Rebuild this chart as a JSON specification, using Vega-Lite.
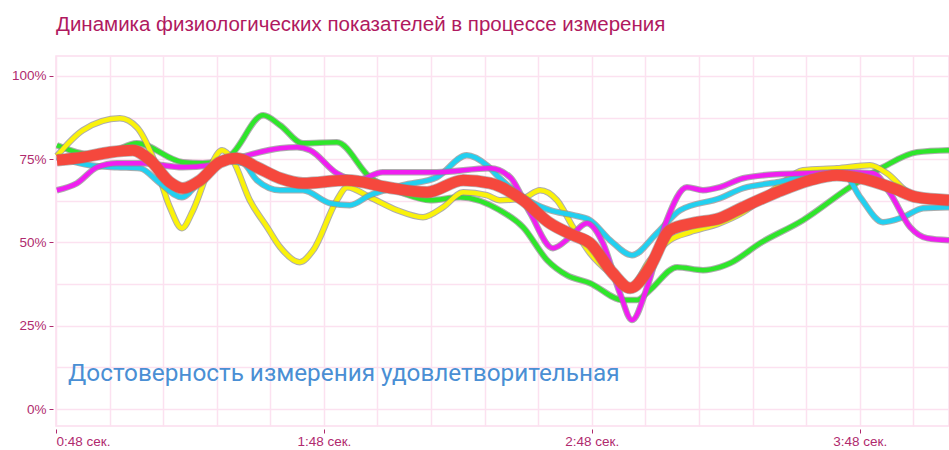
{
  "$schema": "https://vega.github.io/schema/vega-lite/v6.json",
  "autosize": "none",
  "width": 893,
  "height": 370,
  "padding": {"left": 56, "top": 56, "right": 0, "bottom": 24},
  "background": "white",
  "config": {
    "view": {"stroke": "#FCDDEE", "strokeWidth": 1.5},
    "font": "Liberation Sans"
  },
  "title": {
    "text": "Динамика физиологических показателей в процессе измерения",
    "anchor": "start",
    "frame": "group",
    "font": "Liberation Sans",
    "fontSize": 20.5,
    "fontWeight": "normal",
    "color": "#B0195F",
    "offset": 21
  },
  "datasets": {
    "series": [
      {"s": "green", "t": 48.2, "v": 79.2}, {"s": "green", "t": 55.6, "v": 76.5}, {"s": "green", "t": 60.1, "v": 77.0}, {"s": "green", "t": 66.1, "v": 79.8}, {"s": "green", "t": 76.4, "v": 74.1}, {"s": "green", "t": 80.9, "v": 73.8}, {"s": "green", "t": 87.0, "v": 76.2}, {"s": "green", "t": 94.4, "v": 88.2}, {"s": "green", "t": 98.2, "v": 85.2}, {"s": "green", "t": 103.3, "v": 79.8}, {"s": "green", "t": 110.9, "v": 80.1}, {"s": "green", "t": 118.3, "v": 69.6}, {"s": "green", "t": 125.7, "v": 64.8}, {"s": "green", "t": 131.8, "v": 62.7}, {"s": "green", "t": 138.5, "v": 63.6}, {"s": "green", "t": 147.4, "v": 59.7}, {"s": "green", "t": 152.6, "v": 54.6}, {"s": "green", "t": 158.0, "v": 44.7}, {"s": "green", "t": 162.4, "v": 40.2}, {"s": "green", "t": 167.6, "v": 37.8}, {"s": "green", "t": 175.0, "v": 32.7}, {"s": "green", "t": 178.1, "v": 32.7}, {"s": "green", "t": 181.0, "v": 35.7}, {"s": "green", "t": 187.1, "v": 42.6}, {"s": "green", "t": 192.9, "v": 41.7}, {"s": "green", "t": 196.7, "v": 42.6}, {"s": "green", "t": 199.0, "v": 43.8}, {"s": "green", "t": 205.7, "v": 49.8}, {"s": "green", "t": 215.3, "v": 56.7}, {"s": "green", "t": 225.8, "v": 66.6}, {"s": "green", "t": 233.2, "v": 72.6}, {"s": "green", "t": 240.8, "v": 77.1}, {"s": "green", "t": 248.0, "v": 77.7},
      {"s": "yellow", "t": 48.2, "v": 76.0}, {"s": "yellow", "t": 54.0, "v": 83.7}, {"s": "yellow", "t": 62.3, "v": 87.3}, {"s": "yellow", "t": 66.1, "v": 84.6}, {"s": "yellow", "t": 69.7, "v": 75.6}, {"s": "yellow", "t": 73.5, "v": 60.6}, {"s": "yellow", "t": 76.2, "v": 54.3}, {"s": "yellow", "t": 78.7, "v": 59.7}, {"s": "yellow", "t": 82.5, "v": 72.6}, {"s": "yellow", "t": 85.2, "v": 77.7}, {"s": "yellow", "t": 87.6, "v": 74.7}, {"s": "yellow", "t": 91.4, "v": 62.7}, {"s": "yellow", "t": 95.3, "v": 54.6}, {"s": "yellow", "t": 98.2, "v": 48.6}, {"s": "yellow", "t": 102.6, "v": 44.1}, {"s": "yellow", "t": 105.6, "v": 47.7}, {"s": "yellow", "t": 110.9, "v": 62.7}, {"s": "yellow", "t": 113.2, "v": 66.6}, {"s": "yellow", "t": 118.3, "v": 63.6}, {"s": "yellow", "t": 124.4, "v": 59.7}, {"s": "yellow", "t": 130.2, "v": 57.6}, {"s": "yellow", "t": 134.7, "v": 60.6}, {"s": "yellow", "t": 139.2, "v": 65.1}, {"s": "yellow", "t": 144.5, "v": 64.2}, {"s": "yellow", "t": 147.4, "v": 62.7}, {"s": "yellow", "t": 152.6, "v": 63.3}, {"s": "yellow", "t": 156.4, "v": 65.7}, {"s": "yellow", "t": 160.2, "v": 62.7}, {"s": "yellow", "t": 163.8, "v": 54.6}, {"s": "yellow", "t": 167.6, "v": 46.8}, {"s": "yellow", "t": 172.1, "v": 40.8}, {"s": "yellow", "t": 176.6, "v": 36.6}, {"s": "yellow", "t": 181.0, "v": 44.7}, {"s": "yellow", "t": 185.5, "v": 50.7}, {"s": "yellow", "t": 190.0, "v": 53.1}, {"s": "yellow", "t": 196.7, "v": 55.8}, {"s": "yellow", "t": 201.9, "v": 59.1}, {"s": "yellow", "t": 209.5, "v": 66.6}, {"s": "yellow", "t": 215.3, "v": 71.7}, {"s": "yellow", "t": 222.9, "v": 72.3}, {"s": "yellow", "t": 230.3, "v": 73.2}, {"s": "yellow", "t": 234.1, "v": 70.8}, {"s": "yellow", "t": 239.3, "v": 64.8}, {"s": "yellow", "t": 248.0, "v": 62.7},
      {"s": "cyan", "t": 48.2, "v": 75.6}, {"s": "cyan", "t": 55.6, "v": 73.2}, {"s": "cyan", "t": 61.7, "v": 72.6}, {"s": "cyan", "t": 66.8, "v": 72.3}, {"s": "cyan", "t": 71.3, "v": 67.8}, {"s": "cyan", "t": 76.2, "v": 63.6}, {"s": "cyan", "t": 80.3, "v": 68.7}, {"s": "cyan", "t": 85.4, "v": 74.7}, {"s": "cyan", "t": 89.9, "v": 73.8}, {"s": "cyan", "t": 93.0, "v": 68.7}, {"s": "cyan", "t": 98.2, "v": 65.7}, {"s": "cyan", "t": 103.3, "v": 65.7}, {"s": "cyan", "t": 109.4, "v": 61.8}, {"s": "cyan", "t": 113.8, "v": 61.2}, {"s": "cyan", "t": 118.3, "v": 64.2}, {"s": "cyan", "t": 125.7, "v": 67.2}, {"s": "cyan", "t": 133.3, "v": 69.6}, {"s": "cyan", "t": 140.0, "v": 76.2}, {"s": "cyan", "t": 144.5, "v": 73.2}, {"s": "cyan", "t": 147.4, "v": 69.3}, {"s": "cyan", "t": 152.6, "v": 63.6}, {"s": "cyan", "t": 158.6, "v": 59.7}, {"s": "cyan", "t": 163.8, "v": 58.2}, {"s": "cyan", "t": 167.6, "v": 56.7}, {"s": "cyan", "t": 172.1, "v": 50.7}, {"s": "cyan", "t": 177.0, "v": 46.2}, {"s": "cyan", "t": 182.6, "v": 52.8}, {"s": "cyan", "t": 187.8, "v": 59.7}, {"s": "cyan", "t": 196.7, "v": 63.3}, {"s": "cyan", "t": 201.9, "v": 66.3}, {"s": "cyan", "t": 209.5, "v": 68.1}, {"s": "cyan", "t": 216.9, "v": 70.2}, {"s": "cyan", "t": 224.3, "v": 70.8}, {"s": "cyan", "t": 228.1, "v": 63.6}, {"s": "cyan", "t": 233.2, "v": 56.1}, {"s": "cyan", "t": 237.7, "v": 57.6}, {"s": "cyan", "t": 242.2, "v": 60.3}, {"s": "cyan", "t": 248.0, "v": 60.6},
      {"s": "magenta", "t": 48.2, "v": 65.7}, {"s": "magenta", "t": 52.7, "v": 67.8}, {"s": "magenta", "t": 57.2, "v": 72.6}, {"s": "magenta", "t": 61.7, "v": 73.8}, {"s": "magenta", "t": 67.5, "v": 73.8}, {"s": "magenta", "t": 76.4, "v": 72.6}, {"s": "magenta", "t": 82.5, "v": 73.2}, {"s": "magenta", "t": 88.5, "v": 75.3}, {"s": "magenta", "t": 98.2, "v": 78.3}, {"s": "magenta", "t": 102.0, "v": 78.6}, {"s": "magenta", "t": 104.9, "v": 77.7}, {"s": "magenta", "t": 110.9, "v": 70.8}, {"s": "magenta", "t": 115.4, "v": 68.7}, {"s": "magenta", "t": 121.2, "v": 71.1}, {"s": "magenta", "t": 133.3, "v": 71.1}, {"s": "magenta", "t": 145.2, "v": 72.3}, {"s": "magenta", "t": 149.7, "v": 69.6}, {"s": "magenta", "t": 154.2, "v": 58.8}, {"s": "magenta", "t": 159.3, "v": 48.3}, {"s": "magenta", "t": 163.1, "v": 51.6}, {"s": "magenta", "t": 166.9, "v": 55.8}, {"s": "magenta", "t": 170.5, "v": 49.8}, {"s": "magenta", "t": 174.3, "v": 34.8}, {"s": "magenta", "t": 177.0, "v": 26.7}, {"s": "magenta", "t": 180.4, "v": 36.6}, {"s": "magenta", "t": 184.8, "v": 56.7}, {"s": "magenta", "t": 189.3, "v": 66.6}, {"s": "magenta", "t": 192.9, "v": 65.7}, {"s": "magenta", "t": 196.7, "v": 66.6}, {"s": "magenta", "t": 201.9, "v": 69.3}, {"s": "magenta", "t": 209.5, "v": 70.5}, {"s": "magenta", "t": 216.9, "v": 70.8}, {"s": "magenta", "t": 224.3, "v": 71.1}, {"s": "magenta", "t": 231.0, "v": 70.8}, {"s": "magenta", "t": 234.8, "v": 64.8}, {"s": "magenta", "t": 239.3, "v": 54.6}, {"s": "magenta", "t": 243.1, "v": 51.3}, {"s": "magenta", "t": 248.0, "v": 50.7},
      {"s": "red", "t": 48.2, "v": 74.7}, {"s": "red", "t": 54.0, "v": 75.6}, {"s": "red", "t": 60.1, "v": 77.1}, {"s": "red", "t": 65.2, "v": 77.7}, {"s": "red", "t": 69.1, "v": 74.7}, {"s": "red", "t": 73.5, "v": 68.1}, {"s": "red", "t": 76.4, "v": 66.3}, {"s": "red", "t": 80.3, "v": 68.7}, {"s": "red", "t": 84.7, "v": 74.1}, {"s": "red", "t": 88.5, "v": 75.3}, {"s": "red", "t": 93.0, "v": 72.6}, {"s": "red", "t": 98.2, "v": 69.3}, {"s": "red", "t": 103.3, "v": 67.8}, {"s": "red", "t": 113.2, "v": 68.7}, {"s": "red", "t": 122.1, "v": 66.6}, {"s": "red", "t": 131.1, "v": 65.1}, {"s": "red", "t": 139.2, "v": 68.7}, {"s": "red", "t": 145.2, "v": 67.8}, {"s": "red", "t": 152.6, "v": 62.7}, {"s": "red", "t": 158.6, "v": 55.8}, {"s": "red", "t": 163.8, "v": 52.2}, {"s": "red", "t": 167.6, "v": 49.8}, {"s": "red", "t": 172.7, "v": 40.8}, {"s": "red", "t": 176.6, "v": 36.3}, {"s": "red", "t": 181.0, "v": 42.6}, {"s": "red", "t": 185.5, "v": 53.7}, {"s": "red", "t": 190.7, "v": 55.8}, {"s": "red", "t": 196.7, "v": 57.3}, {"s": "red", "t": 201.9, "v": 60.6}, {"s": "red", "t": 209.5, "v": 65.1}, {"s": "red", "t": 216.9, "v": 68.7}, {"s": "red", "t": 222.9, "v": 70.2}, {"s": "red", "t": 228.1, "v": 69.3}, {"s": "red", "t": 235.5, "v": 66.3}, {"s": "red", "t": 240.8, "v": 63.6}, {"s": "red", "t": 248.0, "v": 62.7}
    ]
  },
  "data": {"name": "series"},
  "resolve": {"axis": {"x": "independent", "y": "independent"}},
  "layer": [
    {
      "mark": {"type": "text", "align": "left", "baseline": "middle", "font": "Roboto", "fontSize": 24.3, "color": "#4A8FD4"},
      "data": {"values": [{"note": "Достоверность измерения удовлетворительная"}]},
      "encoding": {
        "text": {"field": "note"},
        "x": {"datum": 50.7, "type": "quantitative", "scale": {"domain": [48, 248], "nice": false, "zero": false},
              "axis": {"orient": "bottom", "values": [48,60,72,84,96,108,120,132,144,156,168,180,192,204,216,228,240], "grid": true, "gridColor": "#FCE1F0", "gridWidth": 1.5, "labels": false, "ticks": false, "domain": false, "title": null}},
        "y": {"datum": 10.5, "type": "quantitative", "scale": {"domain": [-5.1, 106], "nice": false, "zero": false},
              "axis": {"orient": "left", "values": [0,12.5,25,37.5,50,62.5,75,87.5,100], "grid": true, "gridColor": "#FCE1F0", "gridWidth": 1.5, "labels": false, "ticks": false, "domain": false, "title": null}}
      }
    },
    {
      "transform": [{"filter": "datum.s === 'green'"}],
      "mark": {"type": "line", "interpolate": "monotone", "color": "#8a8a8a", "strokeWidth": 6.5, "opacity": 0.7},
      "encoding": {
        "x": {"field": "t", "type": "quantitative",
              "axis": {"orient": "bottom", "values": [48,108,168,228], "grid": false, "domain": false, "title": null, "offset": 3, "tickSize": 4, "tickColor": "#B02A6E", "labelColor": "#B02A6E", "labelFont": "Liberation Sans", "labelFontSize": 13.5, "labelPadding": 1, "labelFlush": true,
                       "labelExpr": "floor(datum.value/60) + ':' + (datum.value % 60 < 10 ? '0' : '') + (datum.value % 60) + ' сек.'"}},
        "y": {"field": "v", "type": "quantitative",
              "axis": {"orient": "left", "values": [0,25,50,75,100], "grid": false, "domain": false, "title": null, "offset": 3, "tickSize": 4, "tickColor": "#B02A6E", "labelColor": "#B02A6E", "labelFont": "Liberation Sans", "labelFontSize": 13.5, "labelPadding": 3,
                       "labelExpr": "datum.value + '%'"}}
      }
    },
    {"transform": [{"filter": "datum.s === 'green'"}], "mark": {"type": "line", "interpolate": "monotone", "color": "#2EE62A", "strokeWidth": 4.5},
     "encoding": {"x": {"field": "t", "type": "quantitative", "axis": null}, "y": {"field": "v", "type": "quantitative", "axis": null}}},
    {"transform": [{"filter": "datum.s === 'yellow'"}], "mark": {"type": "line", "interpolate": "monotone", "color": "#8a8a8a", "strokeWidth": 6.5, "opacity": 0.7},
     "encoding": {"x": {"field": "t", "type": "quantitative", "axis": null}, "y": {"field": "v", "type": "quantitative", "axis": null}}},
    {"transform": [{"filter": "datum.s === 'yellow'"}], "mark": {"type": "line", "interpolate": "monotone", "color": "#FAF20A", "strokeWidth": 4.5},
     "encoding": {"x": {"field": "t", "type": "quantitative", "axis": null}, "y": {"field": "v", "type": "quantitative", "axis": null}}},
    {"transform": [{"filter": "datum.s === 'cyan'"}], "mark": {"type": "line", "interpolate": "monotone", "color": "#8a8a8a", "strokeWidth": 6.5, "opacity": 0.7},
     "encoding": {"x": {"field": "t", "type": "quantitative", "axis": null}, "y": {"field": "v", "type": "quantitative", "axis": null}}},
    {"transform": [{"filter": "datum.s === 'cyan'"}], "mark": {"type": "line", "interpolate": "monotone", "color": "#22D0F0", "strokeWidth": 4.5},
     "encoding": {"x": {"field": "t", "type": "quantitative", "axis": null}, "y": {"field": "v", "type": "quantitative", "axis": null}}},
    {"transform": [{"filter": "datum.s === 'magenta'"}], "mark": {"type": "line", "interpolate": "monotone", "color": "#8a8a8a", "strokeWidth": 6.5, "opacity": 0.7},
     "encoding": {"x": {"field": "t", "type": "quantitative", "axis": null}, "y": {"field": "v", "type": "quantitative", "axis": null}}},
    {"transform": [{"filter": "datum.s === 'magenta'"}], "mark": {"type": "line", "interpolate": "monotone", "color": "#F01EF0", "strokeWidth": 4.5},
     "encoding": {"x": {"field": "t", "type": "quantitative", "axis": null}, "y": {"field": "v", "type": "quantitative", "axis": null}}},
    {"transform": [{"filter": "datum.s === 'red'"}], "mark": {"type": "line", "interpolate": "monotone", "color": "#8a8a8a", "strokeWidth": 12.5, "opacity": 0.6},
     "encoding": {"x": {"field": "t", "type": "quantitative", "axis": null}, "y": {"field": "v", "type": "quantitative", "axis": null}}},
    {"transform": [{"filter": "datum.s === 'red'"}], "mark": {"type": "line", "interpolate": "monotone", "color": "#F5483D", "strokeWidth": 11},
     "encoding": {"x": {"field": "t", "type": "quantitative", "axis": null}, "y": {"field": "v", "type": "quantitative", "axis": null}}}
  ]
}
